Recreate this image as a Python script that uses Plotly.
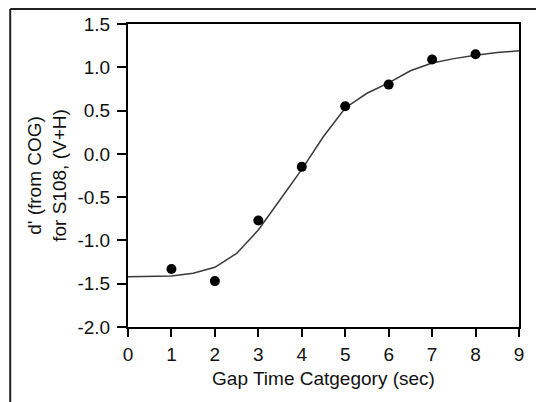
import plotly.graph_objects as go

# observed data
gap_time = [1, 2, 3, 4, 5, 6, 7, 8]
d_prime = [-1.33, -1.47, -0.77, -0.15, 0.55, 0.80, 1.09, 1.15]

# fitted curve
fit_x = [0, 1, 1.5, 2, 2.5, 3, 3.5, 4, 4.5, 5, 5.5, 6, 6.5, 7, 7.5, 8, 8.5, 9]
fit_y = [-1.42, -1.41, -1.38, -1.31, -1.15, -0.88, -0.53, -0.18, 0.20, 0.53,
         0.70, 0.82, 0.96, 1.05, 1.10, 1.14, 1.17, 1.19]

x_ticks = [0, 1, 2, 3, 4, 5, 6, 7, 8, 9]
y_ticks = [-2.0, -1.5, -1.0, -0.5, 0.0, 0.5, 1.0, 1.5]
y_tick_text = ["-2.0", "-1.5", "-1.0", "-0.5", "0.0", "0.5", "1.0", "1.5"]

FONT = dict(family="Liberation Sans, Arial, sans-serif", size=19, color="#111")

fig = go.Figure()
fig.add_trace(go.Scatter(x=fit_x, y=fit_y, mode="lines",
                         line=dict(color="#3a3a3a", width=1.5),
                         showlegend=False, hoverinfo="skip"))
fig.add_trace(go.Scatter(x=gap_time, y=d_prime, mode="markers",
                         marker=dict(color="black", size=10),
                         showlegend=False))

L, R, T, B = 128, 13, 24, 75
W, H = 536, 402
pw, ph = W - L - R, H - T - B
fx0 = (9 - L) / pw
fy1 = (H - B - 9) / ph

fig.update_layout(
    width=W, height=H,
    margin=dict(l=L, r=R, t=T, b=B),
    paper_bgcolor="white", plot_bgcolor="white",
    font=FONT,
    xaxis=dict(range=[0, 9], tickvals=x_ticks, ticks="outside", ticklen=8,
               tickwidth=2, tickcolor="black", showline=True, linecolor="black",
               linewidth=2, mirror=True, showgrid=False, zeroline=False,
               ticklabelstandoff=1,
               title=dict(text="Gap Time Catgegory (sec)", font=FONT, standoff=8),
               tickfont=FONT),
    yaxis=dict(range=[-2, 1.5], tickvals=y_ticks, ticktext=y_tick_text,
               ticks="outside", ticklen=9, tickwidth=2, tickcolor="black",
               showline=True, linecolor="black", linewidth=2, mirror=True,
               showgrid=False, zeroline=False, ticklabelstandoff=3,
               title=dict(text="d' (from COG)<br>for S108, (V+H)", font=FONT,
                          standoff=6),
               tickfont=FONT),
    shapes=[
        dict(type="line", xref="paper", yref="paper",
             x0=fx0, x1=2.0, y0=fy1, y1=fy1,
             line=dict(color="#222", width=2), layer="below"),
        dict(type="line", xref="paper", yref="paper",
             x0=fx0, x1=fx0, y0=-1.0, y1=fy1,
             line=dict(color="#222", width=2), layer="below"),
    ],
)

fig.write_html("out.html")
